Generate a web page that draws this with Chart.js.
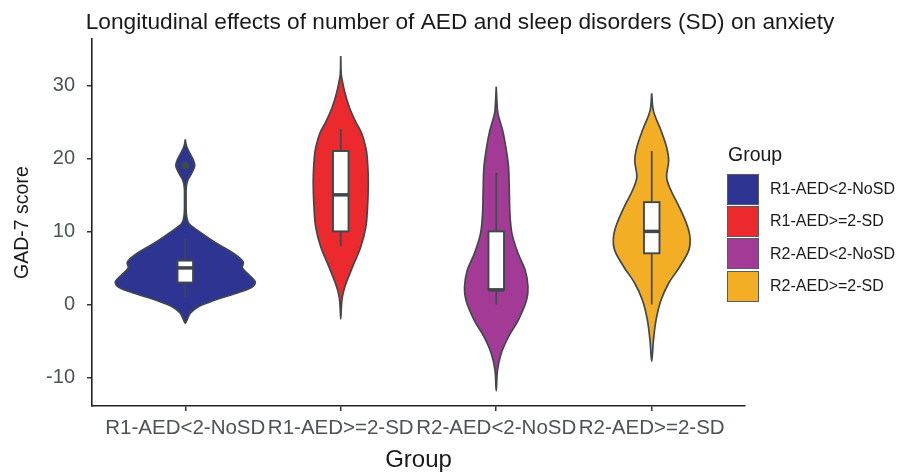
<!DOCTYPE html>
<html>
<head>
<meta charset="utf-8">
<script src="https://cdn.jsdelivr.net/npm/chart.js@4.4.1/dist/chart.umd.min.js"></script>
<style>
    html, body { margin: 0; padding: 0; background: #fff; }
    #wrap { position: relative; width: 898px; height: 475px; }
    #legend { position: absolute; left: 727px; top: 0; font-family: 'Liberation Sans', Arial, sans-serif; color: #1a1a1a; }
    #legendTitle { position: absolute; left: 1px; top: 142px; font-size: 19.5px; line-height: 24px; white-space: nowrap; }
    #legendItems { position: absolute; left: 0; top: 173px; }
    .item { display: flex; align-items: center; height: 32.3px; white-space: nowrap; }
    .key { width: 32px; height: 31px; box-sizing: border-box; border: 1.5px solid #565c60; }
    .lab { margin-left: 11px; font-size: 16px; }
</style>
</head>
<body>
<div id="wrap">
    <canvas id="chart"></canvas>
    <div id="legend"><div id="legendTitle">Group</div><div id="legendItems"></div></div>
</div>
<script>
const groups = ['R1-AED<2-NoSD', 'R1-AED>=2-SD', 'R2-AED<2-NoSD', 'R2-AED>=2-SD'];
const colors = ['#2e3492', '#ec2a2e', '#a33b96', '#f4ae25'];
const yTicks = [-10, 0, 10, 20, 30];

// violin outlines: GAD-7 levels (top to bottom) and half widths (in group units)
const levels1 = [22.6, 21.8, 20.8, 19.8, 19.0, 18.0, 17.0, 16.0, 14.5, 12.5, 11.6, 11.0, 9.7, 8.3, 7.0, 5.8, 5.0, 4.0, 3.1, 2.4, 1.5, 0.6, -0.3, -1.2, -2.0, -2.6];
const widths1 = [0, 0.006, 0.026, 0.051, 0.061, 0.042, 0.016, 0.006, 0.005, 0.006, 0.013, 0.026, 0.109, 0.206, 0.309, 0.373, 0.367, 0.412, 0.450, 0.431, 0.322, 0.193, 0.084, 0.032, 0.013, 0];
const levels2 = [34.0, 31.5, 30.6, 29.0, 27.0, 25.0, 23.4, 21.5, 20.1, 17.0, 13.3, 10.6, 7.9, 5.1, 2.4, 1.0, 0.0, -2.0];
const widths2 = [0, 0.003, 0.010, 0.026, 0.055, 0.096, 0.135, 0.161, 0.170, 0.177, 0.172, 0.161, 0.129, 0.075, 0.026, 0.010, 0.005, 0];
const levels3 = [29.8, 27.5, 26.1, 23.8, 21.5, 18.8, 15.6, 12.4, 9.7, 7.0, 4.7, 2.4, 0.6, -2.1, -4.4, -6.7, -9.0, -11.8];
const widths3 = [0, 0.005, 0.011, 0.041, 0.062, 0.079, 0.084, 0.088, 0.101, 0.140, 0.186, 0.204, 0.195, 0.143, 0.079, 0.032, 0.008, 0];
const levels4 = [28.9, 26.5, 23.8, 21.5, 19.7, 17.4, 15.6, 13.3, 11.0, 9.2, 7.4, 5.1, 2.9, 0.6, -2.1, -4.9, -7.8];
const widths4 = [0, 0.011, 0.060, 0.096, 0.109, 0.096, 0.124, 0.178, 0.225, 0.246, 0.238, 0.178, 0.109, 0.060, 0.028, 0.011, 0];

// boxplot stats
const mins = [1, 8, 0, 0];
const q1s = [3, 10, 2, 7];
const medians = [5, 15, 2, 10];
const q3s = [6, 21, 10, 14];
const maxs = [9, 24, 18, 21];
const outliers = [[19], [], [], []];

const violinLevels = [levels1, levels2, levels3, levels4];
const violinWidths = [widths1, widths2, widths3, widths4];
const FONT = "'Liberation Sans', Arial, sans-serif";
const OUTLINE = '#3e484d';
const BOX_HALF = 0.05;

function violinPoints(i) {
    const c = i + 1;
    const lv = violinLevels[i], hw = violinWidths[i];
    const left = lv.map((v, k) => ({ x: c - hw[k], y: v }));
    const right = lv.map((v, k) => ({ x: c + hw[k], y: v })).reverse();
    return left.concat(right.slice(1));
}

const boxPlugin = {
    id: 'boxes',
    afterDatasetsDraw(chart) {
        const { ctx } = chart;
        const x = chart.scales.x, y = chart.scales.y;
        ctx.save();
        ctx.strokeStyle = OUTLINE;
        groups.forEach((g, i) => {
            const cx = x.getPixelForValue(i + 1);
            const half = x.getPixelForValue(i + 1 + BOX_HALF) - cx;
            // whiskers
            ctx.lineWidth = 1.7;
            ctx.beginPath();
            ctx.moveTo(cx, y.getPixelForValue(maxs[i]));
            ctx.lineTo(cx, y.getPixelForValue(mins[i]));
            ctx.stroke();
            // box
            const top = y.getPixelForValue(q3s[i]);
            const bot = y.getPixelForValue(q1s[i]);
            ctx.fillStyle = '#ffffff';
            ctx.fillRect(cx - half, top, half * 2, bot - top);
            ctx.lineWidth = 1.9;
            ctx.strokeRect(cx - half, top, half * 2, bot - top);
            // median
            ctx.lineWidth = 3.5;
            const my = y.getPixelForValue(medians[i]);
            ctx.beginPath();
            ctx.moveTo(cx - half, my);
            ctx.lineTo(cx + half, my);
            ctx.stroke();
            // outliers
            ctx.fillStyle = OUTLINE;
            outliers[i].forEach(v => {
                ctx.beginPath();
                ctx.arc(cx, y.getPixelForValue(v), 3.8, 0, Math.PI * 2);
                ctx.fill();
            });
        });
        ctx.restore();
    }
};

const axisGrid = { display: true, drawOnChartArea: false, drawTicks: true, tickLength: 5, color: '#333333', lineWidth: 1.5 };
const axisBorder = { display: true, color: '#222222', width: 1.6 };

new Chart(document.getElementById('chart'), {
    type: 'scatter',
    data: {
        datasets: groups.map((g, i) => ({
            label: g,
            data: violinPoints(i),
            showLine: true,
            fill: 'shape',
            backgroundColor: colors[i],
            borderColor: OUTLINE,
            borderWidth: 1.7,
            pointRadius: 0,
            tension: 0.35
        }))
    },
    options: {
        responsive: true,
        maintainAspectRatio: false,
        animation: false,
        layout: { padding: { left: 22, right: 0, top: 0, bottom: 0 } },
        plugins: {
            legend: { display: false },
            tooltip: { enabled: false },
            title: {
                display: true,
                text: 'Longitudinal effects of number of AED and sleep disorders (SD) on anxiety',
                font: { family: FONT, size: 22.7, weight: 'normal' },
                color: '#1a1a1a',
                padding: { top: 9, bottom: 3 }
            }
        },
        scales: {
            x: {
                type: 'linear',
                position: 'bottom',
                min: 0.4,
                max: 4.6,
                afterBuildTicks: s => { s.ticks = groups.map((g, i) => ({ value: i + 1 })); },
                afterFit: s => { s.height = 69; },
                ticks: {
                    callback: v => groups[v - 1],
                    autoSkip: false, maxRotation: 0, minRotation: 0,
                    font: { family: FONT, size: 20.5 }, color: '#4d5356', padding: 5
                },
                grid: axisGrid,
                border: axisBorder,
                title: { display: true, text: 'Group', font: { family: FONT, size: 24 }, color: '#1a1a1a', padding: { top: 0, bottom: 0 } }
            },
            y: {
                type: 'linear',
                position: 'left',
                min: -13.9,
                max: 36.3,
                afterBuildTicks: s => { s.ticks = yTicks.map(v => ({ value: v })); },
                afterFit: s => { s.width = 70; },
                ticks: { font: { family: FONT, size: 20 }, color: '#4d5356', padding: 12 },
                grid: axisGrid,
                border: axisBorder,
                title: { display: true, text: 'GAD-7 score', font: { family: FONT, size: 19.5, lineHeight: 0.1 }, color: '#1a1a1a', padding: { top: 0, bottom: 0 } }
            },
            // empty right axis that keeps room for the legend
            yR: {
                type: 'linear',
                position: 'right',
                display: true,
                grid: { display: false },
                ticks: { display: false },
                border: { display: false },
                afterFit: s => { s.width = 153; }
            }
        }
    },
    plugins: [boxPlugin]
});

// Legend
document.getElementById('legendItems').innerHTML = groups.map((g, i) => `
    <div class="item"><div class="key" style="background:${colors[i]}"></div><span class="lab">${g.replace(/</g, '&lt;').replace(/>/g, '&gt;')}</span></div>
`).join('');
</script>
</body>
</html>
